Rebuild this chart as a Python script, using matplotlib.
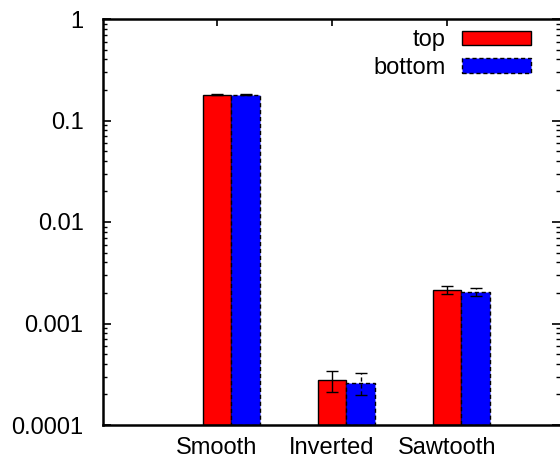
import numpy as np
import matplotlib
matplotlib.use('Agg')
import matplotlib.pyplot as plt
from matplotlib.ticker import FixedLocator, FuncFormatter, LogLocator, NullFormatter

plt.rcParams['font.family'] = ['Liberation Sans', 'DejaVu Sans']

categories = ['Smooth', 'Inverted', 'Sawtooth']
series_names = ['top', 'bottom']
top_vals = [0.180, 0.000279, 0.00215]
top_lo = [0.178, 0.000213, 0.00197]
top_hi = [0.182, 0.000340, 0.00233]
bottom_vals = [0.180, 0.000259, 0.00206]
bottom_lo = [0.178, 0.000197, 0.00188]
bottom_hi = [0.182, 0.000323, 0.00222]
ytick_vals = [1e-4, 1e-3, 1e-2, 1e-1, 1]

fs = 17
fig = plt.figure(figsize=(5.6, 4.62), dpi=100)
ax = fig.add_axes([103/560, 1 - 425/462, 457/560, 406/462])

x = np.arange(len(categories))
w = 0.25
ybase = 1e-4

def yerr(vals, lo, hi):
    v = np.array(vals)
    return [v - np.array(lo), np.array(hi) - v]

b1 = ax.bar(x, np.array(top_vals) - ybase, w, bottom=ybase, color='#ff0000',
            edgecolor='black', linewidth=1.0, label=series_names[0], zorder=2)
b2 = ax.bar(x + w, np.array(bottom_vals) - ybase, w, bottom=ybase, color='#0000ff',
            edgecolor='black', linewidth=1.0, linestyle=(0, (3, 2)),
            label=series_names[1], zorder=2)
ax.errorbar(x, top_vals, yerr=yerr(top_vals, top_lo, top_hi), fmt='none',
            ecolor='black', elinewidth=1.0, capsize=4, capthick=1.0, zorder=3)
eb = ax.errorbar(x + w, bottom_vals, yerr=yerr(bottom_vals, bottom_lo, bottom_hi),
                 fmt='none', ecolor='black', elinewidth=1.0, capsize=4,
                 capthick=1.0, zorder=3)
for lc in eb[2]:
    lc.set_linestyle((0, (3, 2)))

ax.set_yscale('log')
ax.set_ylim(1e-4, 1)
ax.set_xlim((103 - 217) / 115, (560 - 217) / 115)

ax.yaxis.set_major_locator(FixedLocator(ytick_vals))
ax.yaxis.set_major_formatter(FuncFormatter(lambda v, p: '%g' % v))
ax.yaxis.set_minor_locator(LogLocator(base=10, subs=np.arange(2, 10)))
ax.yaxis.set_minor_formatter(NullFormatter())
ax.set_xticks(x)
ax.set_xticklabels(categories)

ax.tick_params(axis='y', which='major', direction='in', length=6, width=1.2,
               right=True, labelsize=fs, pad=14)
ax.tick_params(axis='y', which='minor', direction='in', length=3, width=1.0,
               right=True)
ax.tick_params(axis='x', which='major', direction='in', length=5, width=1.2,
               bottom=False, top=True, labelsize=fs, pad=9)

for s in ['left', 'bottom', 'top']:
    ax.spines[s].set_linewidth(1.8)
    ax.spines[s].set_zorder(4)
ax.spines['right'].set_visible(False)

leg = ax.legend(loc='upper right', bbox_to_anchor=(531/560, 1 - 29/462),
                bbox_transform=fig.transFigure, markerfirst=False, frameon=False,
                fontsize=fs, handlelength=70/24, handleheight=13/24,
                handletextpad=0.7, borderpad=0, borderaxespad=0,
                labelspacing=0.25)

fig.savefig('out.png', dpi=100)
